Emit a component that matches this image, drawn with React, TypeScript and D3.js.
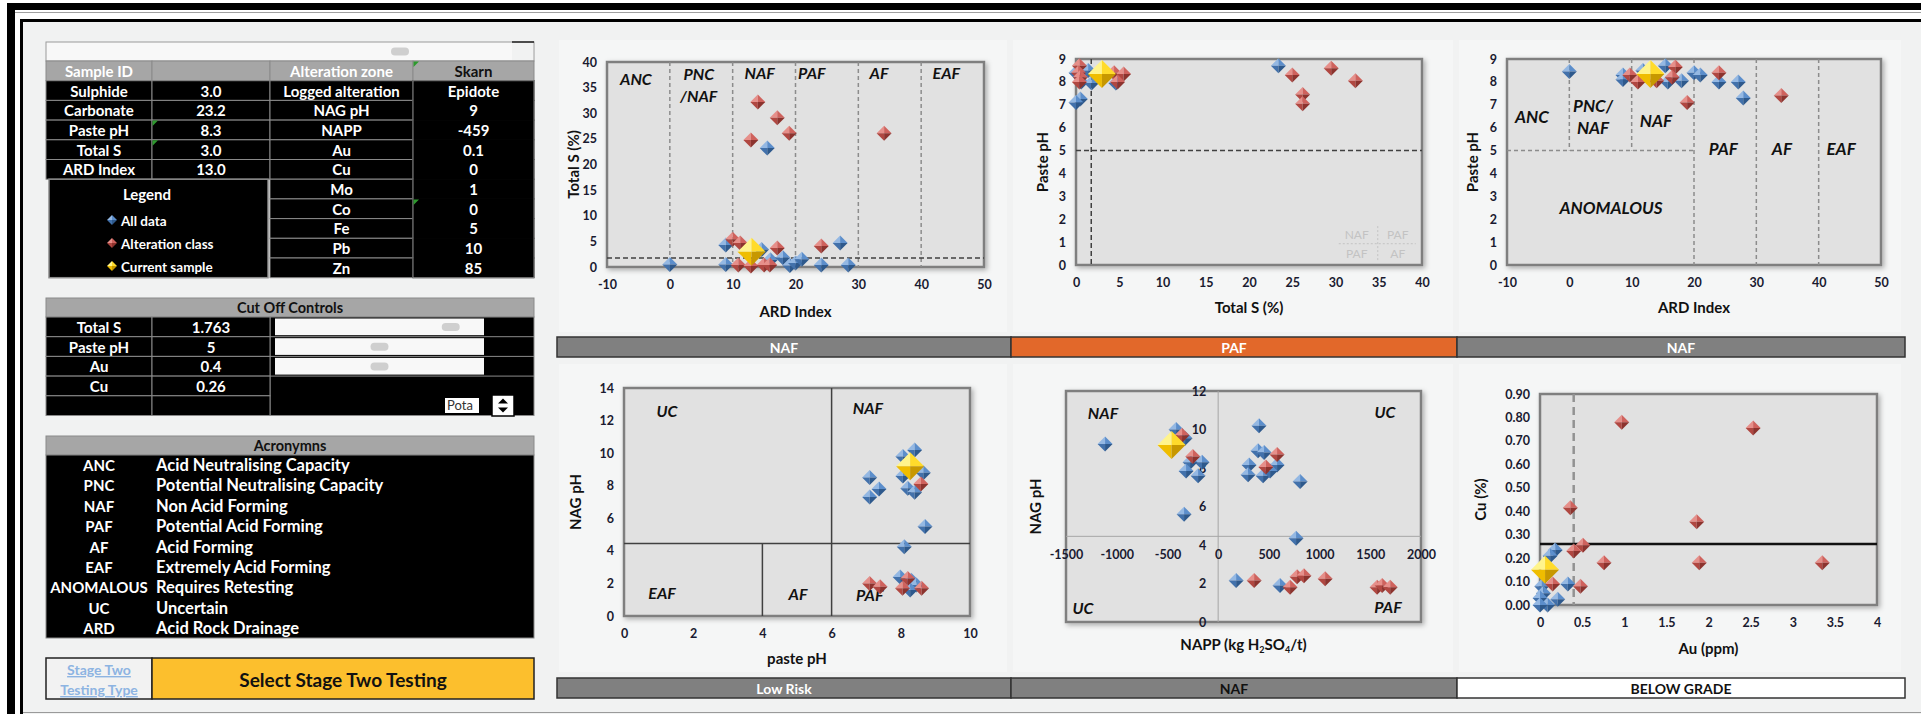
import React, { useRef, useEffect } from 'react';
import * as d3 from 'd3';

const FONT = "Lato, 'Open Sans', 'DejaVu Sans', sans-serif";

type Pt = [number, number];

// ---------- sample summary ----------
const sampleRows = [
  ['Sulphide', '3.0'],
  ['Carbonate', '23.2'],
  ['Paste pH', '8.3'],
  ['Total S', '3.0'],
  ['ARD Index', '13.0'],
];
const alterationRows = [
  ['Logged alteration', 'Epidote'],
  ['NAG pH', '9'],
  ['NAPP', '-459'],
  ['Au', '0.1'],
  ['Cu', '0'],
  ['Mo', '1'],
  ['Co', '0'],
  ['Fe', '5'],
  ['Pb', '10'],
  ['Zn', '85'],
];
const cutoffRows = [
  ['Total S', '1.763'],
  ['Paste pH', '5'],
  ['Au', '0.4'],
  ['Cu', '0.26'],
  ['', ''],
];
const sliderPos = [0.885, 0.5, 0.5];
const acronyms = [
  ['ANC', 'Acid Neutralising Capacity'],
  ['PNC', 'Potential Neutralising Capacity'],
  ['NAF', 'Non Acid Forming'],
  ['PAF', 'Potential Acid Forming'],
  ['AF', 'Acid Forming'],
  ['EAF', 'Extremely Acid Forming'],
  ['ANOMALOUS', 'Requires Retesting'],
  ['UC', 'Uncertain'],
  ['ARD', 'Acid Rock Drainage'],
];

// ---------- cut offs ----------
const totalSCut = 1.763;
const pasteCut = 5;
const auCut = 0.4;
const cuCut = 0.26;
const nagCut = 4.45;
const ardBounds = [0, 10, 20, 30, 40];

// ---------- chart 1: ARD index vs Total S ----------
const ardS_all: Pt[] = [[0, 0.5], [8.9, 4.3], [8.9, 0.5], [14.6, 3.4], [16, 1.4], [18, 1.8], [19.1, 0.3], [20, 0.8], [21, 1.5], [24.1, 0.4], [27.1, 4.7], [28.4, 0.4], [15.5, 23.2]];
const ardS_alt: Pt[] = [[14, 32.2], [17.1, 29.1], [19, 26.1], [12.9, 24.8], [34.1, 26.1], [10, 5.4], [11.2, 4.7], [17.1, 3.7], [24.1, 4.1], [10.9, 0.4], [12.9, 0.2], [15, 0.4], [15.9, 0.4]];
const ardS_cur: Pt = [13, 3.0];

// ---------- chart 2: Total S vs Paste pH ----------
const sPh_all: Pt[] = [[0, 8.4], [1.4, 8.5], [0.6, 8.0], [1.8, 7.95], [0.5, 7.25], [0, 7.1], [4.6, 7.95], [23.4, 8.7]];
const sPh_alt: Pt[] = [[0.4, 8.7], [0.3, 8.4], [0.5, 8.2], [0.4, 8.0], [4.4, 8.4], [5.5, 8.35], [4.8, 8.0], [25, 8.3], [29.5, 8.6], [32.3, 8.05], [26.2, 7.45], [26.2, 7.05]];
const sPh_cur: Pt = [3.0, 8.35];

// ---------- chart 3: ARD index vs Paste pH ----------
const ardPh_all: Pt[] = [[0, 8.45], [8.6, 8.3], [8.6, 8.1], [11.8, 8.5], [15.4, 8.7], [15.8, 8.0], [18, 8.05], [20, 8.4], [21, 8.3], [24, 8.0], [27.1, 8.0], [27.9, 7.3]];
const ardPh_alt: Pt[] = [[9.7, 8.3], [11, 8.0], [14, 8.05], [17, 8.65], [16.5, 8.2], [24, 8.4], [18.9, 7.1], [34, 7.4]];
const ardPh_cur: Pt = [13, 8.35];

// ---------- chart 4: paste pH vs NAG pH ----------
const phNag_all: Pt[] = [[7.1, 8.5], [7.37, 7.8], [7.1, 7.3], [8.4, 10.2], [8.06, 9.8], [8.06, 8.6], [8.65, 8.8], [8.2, 7.85], [8.4, 7.6], [8.7, 5.5], [8.1, 4.25], [7.98, 2.4], [8.3, 2.2], [8.45, 1.9], [8.27, 1.6]];
const phNag_alt: Pt[] = [[8.58, 8.1], [7.1, 2.0], [7.4, 1.8], [8.2, 2.3], [8.05, 1.7], [8.6, 1.7]];
const phNag_cur: Pt = [8.27, 9.2];

// ---------- chart 5: NAPP vs NAG pH ----------
const nappNag_all: Pt[] = [[-1115, 9.25], [-415, 10.0], [-326, 9.55], [-159, 8.3], [-277, 8.3], [-316, 7.85], [-198, 7.6], [-336, 5.6], [403, 10.2], [393, 8.9], [453, 8.8], [305, 8.15], [581, 8.15], [295, 7.65], [443, 7.6], [512, 7.85], [808, 7.3], [768, 4.35], [177, 2.15], [610, 1.9]];
const nappNag_alt: Pt[] = [[-356, 9.7], [-250, 8.6], [581, 8.7], [470, 8.05], [355, 2.15], [709, 1.8], [778, 2.35], [846, 2.4], [1055, 2.25], [1567, 1.8], [1617, 1.9], [1696, 1.8]];
const nappNag_cur: Pt = [-459, 9.2];

// ---------- chart 6: Au vs Cu ----------
const auCu_all: Pt[] = [[0.18, 0.235], [0.12, 0.21], [0.33, 0.09], [0.02, 0.08], [0.04, 0.05], [0, 0.03], [0.21, 0.025], [0.09, 0.0], [0, 0.0]];
const auCu_alt: Pt[] = [[0.97, 0.78], [2.53, 0.755], [0.36, 0.415], [1.86, 0.355], [0.51, 0.255], [0.4, 0.23], [0.76, 0.18], [1.89, 0.18], [3.35, 0.18], [0.15, 0.09], [0.48, 0.08]];
const auCu_cur: Pt = [0.06, 0.15];

// ---------- status banners ----------
const topBanners = [
  { text: 'NAF', fill: '#808080', color: '#fff' },
  { text: 'PAF', fill: '#e2682a', color: '#fff' },
  { text: 'NAF', fill: '#808080', color: '#fff' },
];
const bottomBanners = [
  { text: 'Low Risk', fill: '#808080', color: '#fff' },
  { text: 'NAF', fill: '#808080', color: '#111' },
  { text: 'BELOW GRADE', fill: '#ffffff', color: '#111' },
];

const PAL: Record<string, string[]> = {
  blue: ['#94b8e3', '#5c8ecb', '#4271ab', '#2e598c'],
  red: ['#e68f8a', '#cf625d', '#b04741', '#8c332e'],
  gold: ['#fff48c', '#ffdb2b', '#efbd00', '#c79800'],
};

function Diamond({ cx, cy, r, pal }: { cx: number; cy: number; r: number; pal: string[] }) {
  const T = `${cx},${cy - r}`, R = `${cx + r},${cy}`, B = `${cx},${cy + r}`, L = `${cx - r},${cy}`, C = `${cx},${cy}`;
  return (
    <g>
      <polygon points={`${T} ${C} ${L}`} fill={pal[0]} />
      <polygon points={`${T} ${R} ${C}`} fill={pal[1]} />
      <polygon points={`${L} ${C} ${B}`} fill={pal[2]} />
      <polygon points={`${C} ${R} ${B}`} fill={pal[3]} />
    </g>
  );
}

function Lbl({ x, y, t, size = 16 }: { x: number; y: number; t: string; size?: number }) {
  return (
    <text x={x} y={y} textAnchor="middle" dominantBaseline="central" fontStyle="italic" fontWeight={700} fontSize={size} fill="#111">
      {t}
    </text>
  );
}

type ScatterProps = {
  box: { x0: number; x1: number; y0: number; y1: number };
  xDomain: [number, number];
  yDomain: [number, number];
  xTicks: number[];
  yTicks: number[];
  xFmt?: (d: number) => string;
  yFmt?: (d: number) => string;
  xTitle: React.ReactNode;
  yTitle: string;
  yTitleX: number;
  xTitleY?: number;
  xAxisAt?: number;
  yAxisAt?: number;
  all: Pt[];
  alt: Pt[];
  cur: Pt;
  overlay?: (x: d3.ScaleLinear<number, number>, y: d3.ScaleLinear<number, number>) => React.ReactNode;
};

function Scatter(p: ScatterProps) {
  const { box } = p;
  const x = d3.scaleLinear().domain(p.xDomain).range([box.x0, box.x1]);
  const y = d3.scaleLinear().domain(p.yDomain).range([box.y1, box.y0]);
  const xRef = useRef<SVGGElement>(null);
  const yRef = useRef<SVGGElement>(null);
  const fx = p.xFmt || ((d: number) => String(d));
  const fy = p.yFmt || ((d: number) => String(d));

  useEffect(() => {
    const gx = d3.select(xRef.current);
    gx.selectAll('*').remove();
    gx.call(d3.axisBottom(x).tickValues(p.xTicks).tickFormat(fx as any).tickSize(0).tickPadding(0));
    gx.select('.domain').remove();
    gx.attr('font-size', 12.5).attr('font-family', FONT).attr('font-weight', 700).attr('color', '#1a1a30');

    const gy = d3.select(yRef.current);
    gy.selectAll('*').remove();
    gy.call(d3.axisLeft(y).tickValues(p.yTicks).tickFormat(fy as any).tickSize(0).tickPadding(0));
    gy.select('.domain').remove();
    gy.attr('font-size', 12.5).attr('font-family', FONT).attr('font-weight', 700).attr('color', '#1a1a30');
  }, []);

  const xLabY = p.xAxisAt !== undefined ? y(p.xAxisAt) + 14 : box.y1 + 13;
  const yLabX = p.yAxisAt !== undefined ? x(p.yAxisAt) - 12 : box.x0 - 10;
  const midX = (box.x0 + box.x1) / 2;
  const midY = (box.y0 + box.y1) / 2;

  return (
    <g>
      <rect x={box.x0} y={box.y0} width={box.x1 - box.x0} height={box.y1 - box.y0} fill="#e1e1e1" stroke="#7f7f7f" strokeWidth={2.5} filter="url(#shadow)" />
      {p.overlay && p.overlay(x, y)}
      <g ref={xRef} transform={`translate(0,${xLabY})`} />
      <g ref={yRef} transform={`translate(${yLabX},0)`} />
      {p.all.map((d, i) => <Diamond key={'a' + i} cx={x(d[0])} cy={y(d[1])} r={7.5} pal={PAL.blue} />)}
      {p.alt.map((d, i) => <Diamond key={'r' + i} cx={x(d[0])} cy={y(d[1])} r={7.5} pal={PAL.red} />)}
      <Diamond cx={x(p.cur[0])} cy={y(p.cur[1])} r={14} pal={PAL.gold} />
      <text x={midX} y={p.xTitleY ?? box.y1 + 49} textAnchor="middle" fontWeight={700} fontSize={15} fill="#111">{p.xTitle}</text>
      <text transform={`translate(${p.yTitleX},${midY}) rotate(-90)`} textAnchor="middle" dominantBaseline="central" fontWeight={700} fontSize={15} fill="#111">{p.yTitle}</text>
    </g>
  );
}

const range = (a: number, b: number, s: number) => d3.range(a, b + s / 2, s);

function Cell({ x, y, w, h, text, fill = '#000', color = '#fff', size = 15, stroke = '#8a8a8a' }: any) {
  return (
    <g>
      <rect x={x} y={y} width={w} height={h} fill={fill} stroke={stroke} strokeWidth={1} />
      {text !== '' && (
        <text x={x + w / 2} y={y + h / 2} textAnchor="middle" dominantBaseline="central" fontWeight={700} fontSize={size} fill={color}>{text}</text>
      )}
    </g>
  );
}

function Flag({ x, y }: { x: number; y: number }) {
  return <polygon points={`${x + 0.5},${y + 0.5} ${x + 6},${y + 0.5} ${x + 0.5},${y + 6}`} fill="#2e9a2e" />;
}

function LeftPanel() {
  const cols = [46, 152, 270, 413, 534];
  const rh = 19.7;
  const top = 61;
  const cTop = 317;
  const aTop = 455;
  const W = cols[4] - cols[0];
  return (
    <g>
      {/* top slider row */}
      <rect x={46} y={42} width={W} height={19} fill="#f8f8f8" stroke="#9a9a9a" />
      <rect x={512} y={43} width={21} height={17} fill="#f1f2f2" />
      <line x1={512} x2={534} y1={42} y2={42} stroke="#222" strokeWidth={1.5} />
      <rect x={391} y={47.5} width={18} height={8} rx={4} fill="#cfcfcf" />
      {/* header */}
      <Cell x={cols[0]} y={top} w={cols[1] - cols[0]} h={rh} text="Sample ID" fill="#a6a6a6" />
      <Cell x={cols[1]} y={top} w={cols[2] - cols[1]} h={rh} text="" fill="#a6a6a6" />
      <Cell x={cols[2]} y={top} w={cols[3] - cols[2]} h={rh} text="Alteration zone" fill="#a6a6a6" />
      <Cell x={cols[3]} y={top} w={cols[4] - cols[3]} h={rh} text="Skarn" fill="#a6a6a6" color="#111" />
      {sampleRows.map((r, i) => (
        <g key={'s' + i}>
          <Cell x={cols[0]} y={top + (i + 1) * rh} w={cols[1] - cols[0]} h={rh} text={r[0]} />
          <Cell x={cols[1]} y={top + (i + 1) * rh} w={cols[2] - cols[1]} h={rh} text={r[1]} />
        </g>
      ))}
      {alterationRows.map((r, i) => (
        <g key={'a' + i}>
          <Cell x={cols[2]} y={top + (i + 1) * rh} w={cols[3] - cols[2]} h={rh} text={r[0]} />
          <Cell x={cols[3]} y={top + (i + 1) * rh} w={cols[4] - cols[3]} h={rh} text={r[1]} stroke="#000" />
        </g>
      ))}
      <rect x={cols[3]} y={top + rh} width={cols[4] - cols[3]} height={rh * 10} fill="none" stroke="#8a8a8a" />
      {/* legend */}
      <rect x={49} y={top + 6 * rh} width={219} height={rh * 5} fill="#000" stroke="#8a8a8a" strokeWidth={1.5} />
      <text x={147} y={200} textAnchor="middle" fontWeight={700} fontSize={15} fill="#fff">Legend</text>
      {[['All data', 'blue'], ['Alteration class', 'red'], ['Current sample', 'gold']].map((d, i) => (
        <g key={'l' + i}>
          <Diamond cx={112} cy={220 + i * 23} r={5} pal={PAL[d[1]]} />
          <text x={121} y={221 + i * 23} dominantBaseline="central" fontWeight={700} fontSize={13.5} fill="#fff">{d[0]}</text>
        </g>
      ))}
      <Flag x={cols[3]} y={top} />
      <Flag x={cols[1]} y={top + 3 * rh} />
      <Flag x={cols[1]} y={top + 4 * rh} />
      <Flag x={cols[3]} y={top + 7 * rh} />

      {/* cut off controls */}
      <Cell x={46} y={298} w={W} h={19} text="Cut Off Controls" fill="#a6a6a6" color="#111" size={14.5} />
      <rect x={cols[2]} y={cTop} width={cols[4] - cols[2]} height={rh * 5} fill="#000" stroke="#8a8a8a" />
      {cutoffRows.map((r, i) => (
        <g key={'c' + i}>
          <Cell x={cols[0]} y={cTop + i * rh} w={cols[1] - cols[0]} h={rh} text={r[0]} />
          <Cell x={cols[1]} y={cTop + i * rh} w={cols[2] - cols[1]} h={rh} text={r[1]} />
        </g>
      ))}
      {sliderPos.map((f, i) => (
        <g key={'sl' + i}>
          <line x1={cols[2]} x2={cols[4]} y1={cTop + (i + 1) * rh} y2={cTop + (i + 1) * rh} stroke="#8a8a8a" />
          <rect x={275} y={cTop + i * rh + 1.5} width={209} height={rh - 3} fill="#f8f8f8" />
          <rect x={287 + f * 185 - 9} y={cTop + i * rh + 6} width={18} height={8} rx={4} fill="#cfcfcf" />
        </g>
      ))}
      <rect x={445} y={398} width={34} height={15} fill="#fff" />
      <text x={447} y={410} fontSize={13} fill="#333">Pota</text>
      <rect x={492} y={395} width={22} height={21} fill="#fff" stroke="#000" strokeWidth={1.5} />
      <polygon points="503,398.5 498,403.5 508,403.5" fill="#000" />
      <polygon points="498,407.5 508,407.5 503,412.5" fill="#000" />

      {/* acronyms */}
      <Cell x={46} y={436} w={W} h={19} text="Acronymns" fill="#a6a6a6" color="#111" size={14.5} />
      <rect x={46} y={aTop} width={W} height={183} fill="#000" stroke="#8a8a8a" />
      {acronyms.map((a, i) => (
        <g key={'ac' + i}>
          <text x={99} y={465 + i * 20.4} textAnchor="middle" dominantBaseline="central" fontWeight={700} fontSize={15} fill="#fff">{a[0]}</text>
          <text x={156} y={465 + i * 20.4} dominantBaseline="central" fontWeight={700} fontSize={16.5} fill="#fff">{a[1]}</text>
        </g>
      ))}

      {/* stage two */}
      <rect x={46} y={658} width={106} height={41} fill="#f2f2f2" stroke="#222" strokeWidth={1.5} />
      <rect x={152} y={658} width={382} height={41} fill="#fcbf2d" stroke="#222" strokeWidth={1.5} />
      <text x={99} y={675} textAnchor="middle" fontWeight={700} fontSize={14} fill="#8db4e2" textDecoration="underline">Stage Two </text>
      <text x={99} y={695} textAnchor="middle" fontWeight={700} fontSize={14} fill="#8db4e2" textDecoration="underline">Testing Type</text>
      <text x={343} y={679} textAnchor="middle" dominantBaseline="central" fontWeight={700} fontSize={19} fill="#111">Select Stage Two Testing</text>
    </g>
  );
}

function Banner({ x0, x1, y, b }: { x0: number; x1: number; y: number; b: { text: string; fill: string; color: string } }) {
  return (
    <g>
      <rect x={x0} y={y} width={x1 - x0} height={20} fill={b.fill} stroke="#333" strokeWidth={1.5} />
      <text x={(x0 + x1) / 2} y={y + 10} textAnchor="middle" dominantBaseline="central" fontWeight={700} fontSize={14} fill={b.color}>{b.text}</text>
    </g>
  );
}

export default function App() {
  const bx = [557, 1011, 1457, 1905];
  const dashGray = { stroke: '#8c8c8c', strokeWidth: 1.5, strokeDasharray: '4,3' };
  const dashDark = { stroke: '#404040', strokeWidth: 1.5, strokeDasharray: '5,3' };
  return (
    <svg width={1921} height={714} style={{ position: 'absolute', left: 0, top: 0, display: 'block' }} fontFamily={FONT}>
      <defs>
        <filter id="shadow" x="-10%" y="-10%" width="120%" height="120%">
          <feDropShadow dx="2" dy="2" stdDeviation="2.5" floodColor="#000" floodOpacity="0.3" />
        </filter>
      </defs>
      <rect width={1921} height={714} fill="#fff" />
      <rect x={23} y={22} width={1898} height={692} fill="#f1f2f2" />
      <rect x={7} y={3} width={1914} height={7} fill="#000" />
      <rect x={7} y={3} width={8} height={711} fill="#000" />
      <line x1={15} x2={1921} y1={12.5} y2={12.5} stroke="#a0a0a0" />
      <rect x={20} y={19} width={1901} height={3} fill="#000" />
      <rect x={20} y={19} width={3} height={695} fill="#000" />
      <line x1={23} x2={1921} y1={712.5} y2={712.5} stroke="#9a9a9a" />

      {/* chart panels */}
      {[0, 1, 2].map(i => (
        <g key={'p' + i}>
          <rect x={bx[i] + 2} y={40} width={bx[i + 1] - bx[i] - 6} height={292} fill="#f5f6f6" />
          <rect x={bx[i] + 2} y={364} width={bx[i + 1] - bx[i] - 6} height={308} fill="#f5f6f6" />
        </g>
      ))}

      <LeftPanel />

      <Scatter
        box={{ x0: 607, x1: 984, y0: 62, y1: 267 }}
        xDomain={[-10, 50]} yDomain={[0, 40]}
        xTicks={range(-10, 50, 10)} yTicks={range(0, 40, 5)}
        xTitle="ARD Index" yTitle="Total S (%)" yTitleX={573} xTitleY={317}
        all={ardS_all} alt={ardS_alt} cur={ardS_cur}
        overlay={(x, y) => (
          <g>
            {ardBounds.map(b => <line key={b} x1={x(b)} x2={x(b)} y1={y(40)} y2={y(0)} {...dashGray} />)}
            <line x1={x(-10)} x2={x(50)} y1={y(totalSCut)} y2={y(totalSCut)} {...dashDark} />
            <Lbl x={x(-5.4)} y={y(36.7)} t="ANC" />
            <Lbl x={x(4.6)} y={y(37.7)} t="PNC" />
            <Lbl x={x(4.6)} y={y(33.4)} t="/NAF" />
            <Lbl x={x(14.3)} y={y(38)} t="NAF" />
            <Lbl x={x(22.6)} y={y(38)} t="PAF" />
            <Lbl x={x(33.3)} y={y(38)} t="AF" />
            <Lbl x={x(44)} y={y(38)} t="EAF" />
          </g>
        )}
      />

      <Scatter
        box={{ x0: 1076, x1: 1422, y0: 59, y1: 265 }}
        xDomain={[0, 40]} yDomain={[0, 9]}
        xTicks={range(0, 40, 5)} yTicks={range(0, 9, 1)}
        xTitle="Total S (%)" yTitle="Paste pH" yTitleX={1042} xTitleY={313}
        all={sPh_all} alt={sPh_alt} cur={sPh_cur}
        overlay={(x, y) => (
          <g>
            <line x1={x(totalSCut)} x2={x(totalSCut)} y1={y(9)} y2={y(0)} {...dashDark} />
            <line x1={x(0)} x2={x(40)} y1={y(pasteCut)} y2={y(pasteCut)} {...dashDark} />
            <g fill="#c3c3c3" fontSize={12} textAnchor="middle" dominantBaseline="central">
              <text x={x(35) - 22} y={y(1.35)}>NAF</text>
              <text x={x(35) + 19} y={y(1.35)}>PAF</text>
              <text x={x(35) - 22} y={y(0.5)}>PAF</text>
              <text x={x(35) + 19} y={y(0.5)}>AF</text>
            </g>
            <line x1={x(35) - 40} x2={x(35) + 37} y1={y(0.93)} y2={y(0.93)} stroke="#c3c3c3" strokeDasharray="2,2" />
            <line x1={x(35) - 1} x2={x(35) - 1} y1={y(1.7)} y2={y(0.2)} stroke="#c3c3c3" strokeDasharray="2,2" />
          </g>
        )}
      />

      <Scatter
        box={{ x0: 1507, x1: 1881, y0: 59, y1: 265 }}
        xDomain={[-10, 50]} yDomain={[0, 9]}
        xTicks={range(-10, 50, 10)} yTicks={range(0, 9, 1)}
        xTitle="ARD Index" yTitle="Paste pH" yTitleX={1472} xTitleY={313}
        all={ardPh_all} alt={ardPh_alt} cur={ardPh_cur}
        overlay={(x, y) => (
          <g>
            {ardBounds.map(b => (
              <line key={b} x1={x(b)} x2={x(b)} y1={y(9)} y2={b < 20 ? y(pasteCut) : y(0)} {...dashGray} />
            ))}
            <line x1={x(-10)} x2={x(20)} y1={y(pasteCut)} y2={y(pasteCut)} {...dashGray} />
            <Lbl x={x(-6)} y={y(6.47)} t="ANC" size={17} />
            <Lbl x={x(3.8)} y={y(6.95)} t="PNC/" size={17} />
            <Lbl x={x(3.8)} y={y(6.0)} t="NAF" size={17} />
            <Lbl x={x(13.9)} y={y(6.3)} t="NAF" size={17} />
            <Lbl x={x(24.7)} y={y(5.07)} t="PAF" size={17} />
            <Lbl x={x(34.1)} y={y(5.07)} t="AF" size={17} />
            <Lbl x={x(43.6)} y={y(5.07)} t="EAF" size={17} />
            <Lbl x={x(6.7)} y={y(2.5)} t="ANOMALOUS" size={17} />
          </g>
        )}
      />

      <Scatter
        box={{ x0: 624, x1: 970, y0: 388, y1: 616 }}
        xDomain={[0, 10]} yDomain={[0, 14]}
        xTicks={range(0, 10, 2)} yTicks={range(0, 14, 2)}
        xTitle="paste pH" yTitle="NAG pH" yTitleX={575} xTitleY={664}
        all={phNag_all} alt={phNag_alt} cur={phNag_cur}
        overlay={(x, y) => (
          <g stroke="#404040" strokeWidth={1.5}>
            <line x1={x(6)} x2={x(6)} y1={y(14)} y2={y(0)} />
            <line x1={x(0)} x2={x(10)} y1={y(nagCut)} y2={y(nagCut)} />
            <line x1={x(4)} x2={x(4)} y1={y(nagCut)} y2={y(0)} />
            <g stroke="none">
              <Lbl x={x(1.24)} y={y(12.6)} t="UC" />
              <Lbl x={x(7.05)} y={y(12.8)} t="NAF" />
              <Lbl x={x(1.1)} y={y(1.47)} t="EAF" />
              <Lbl x={x(5.03)} y={y(1.4)} t="AF" />
              <Lbl x={x(7.1)} y={y(1.35)} t="PAF" />
            </g>
          </g>
        )}
      />

      <Scatter
        box={{ x0: 1066, x1: 1421, y0: 391, y1: 622 }}
        xDomain={[-1500, 2000]} yDomain={[0, 12]}
        xTicks={range(-1500, 2000, 500)} yTicks={range(0, 12, 2)}
        xAxisAt={nagCut} yAxisAt={0}
        xTitle={<>NAPP (kg H<tspan fontSize={9} dy={3}>2</tspan><tspan dy={-3}>SO</tspan><tspan fontSize={9} dy={3}>4</tspan><tspan dy={-3}>/t)</tspan></>}
        yTitle="NAG pH" yTitleX={1035} xTitleY={650}
        all={nappNag_all} alt={nappNag_alt} cur={nappNag_cur}
        overlay={(x, y) => (
          <g>
            <line x1={x(0)} x2={x(0)} y1={y(12)} y2={y(0)} stroke="#a6a6a6" strokeWidth={1} />
            <line x1={x(-1500)} x2={x(2000)} y1={y(nagCut)} y2={y(nagCut)} stroke="#a6a6a6" strokeWidth={1} />
            <Lbl x={x(-1135)} y={y(10.9)} t="NAF" />
            <Lbl x={x(1645)} y={y(10.96)} t="UC" />
            <Lbl x={x(-1332)} y={y(0.73)} t="UC" />
            <Lbl x={x(1675)} y={y(0.78)} t="PAF" />
          </g>
        )}
      />

      <Scatter
        box={{ x0: 1540, x1: 1877, y0: 394, y1: 605 }}
        xDomain={[0, 4]} yDomain={[0, 0.9]}
        xTicks={range(0, 4, 0.5)} yTicks={range(0, 0.9, 0.1)}
        yFmt={d3.format('.2f')}
        xTitle="Au (ppm)" yTitle="Cu (%)" yTitleX={1480} xTitleY={654}
        all={auCu_all} alt={auCu_alt} cur={auCu_cur}
        overlay={(x, y) => (
          <g>
            <line x1={x(auCut)} x2={x(auCut)} y1={y(0.9)} y2={y(0)} stroke="#929292" strokeWidth={2.5} strokeDasharray="8,5" />
            <line x1={x(0)} x2={x(4)} y1={y(cuCut)} y2={y(cuCut)} stroke="#111" strokeWidth={2.5} />
          </g>
        )}
      />

      {topBanners.map((b, i) => <Banner key={'t' + i} x0={bx[i]} x1={bx[i + 1]} y={337} b={b} />)}
      {bottomBanners.map((b, i) => <Banner key={'b' + i} x0={bx[i]} x1={bx[i + 1]} y={678} b={b} />)}
    </svg>
  );
}
